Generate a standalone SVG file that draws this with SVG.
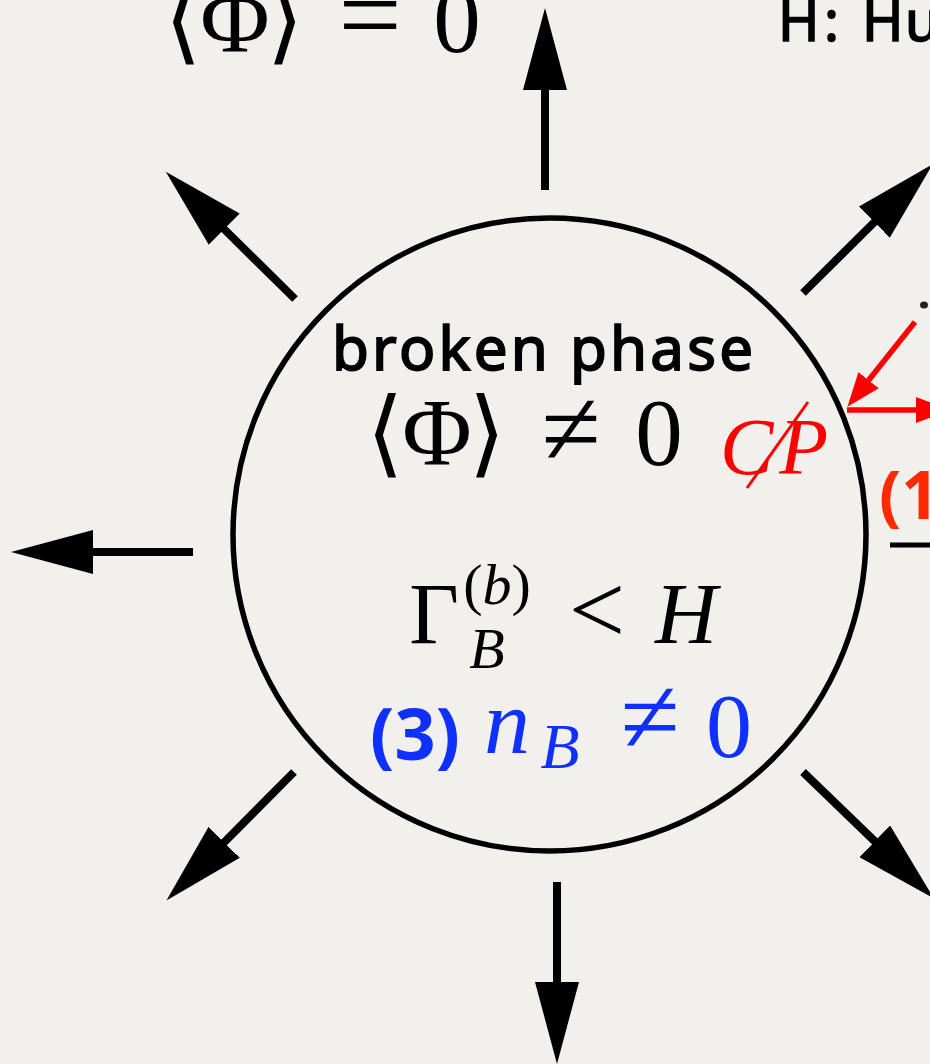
<svg xmlns="http://www.w3.org/2000/svg" width="930" height="1064" viewBox="0 0 930 1064">
<style>
.m{font-family:"Liberation Serif","DejaVu Serif","DejaVu Sans",serif;fill:#000}
.mi{font-family:"Liberation Serif","DejaVu Serif",serif;font-style:italic}
.h{font-family:"Noto Sans","DejaVu Sans",sans-serif;fill:#000}
.shaft{stroke:#000;stroke-width:8;fill:none}
.rshaft{stroke:#ff0000;stroke-width:5.5;fill:none}
.blue{fill:#1030ff}
</style>
<defs>
<marker id="ah" viewBox="0 0 82 44" refX="1" refY="22" markerWidth="82" markerHeight="44" markerUnits="userSpaceOnUse" orient="auto"><path d="M0,0 L82,22 L0,44 Z" fill="#000"/></marker>
<marker id="rah" viewBox="0 0 34 26" refX="1" refY="13" markerWidth="34" markerHeight="26" markerUnits="userSpaceOnUse" orient="auto"><path d="M0,0 L34,13 L0,26 Z" fill="#ff0000"/></marker>
</defs>
<rect x="0" y="0" width="930" height="1064" fill="#f1f0ec"/>

<g id="label-symmetric">
<text class="m" font-size="95" text-anchor="middle"><tspan x="183" y="52">⟨</tspan><tspan x="235" y="52">Φ</tspan><tspan x="285" y="52">⟩</tspan><tspan x="370" y="52" font-size="112">=</tspan><tspan x="457" y="52">0</tspan></text>
</g>

<g id="label-hubble">
<text class="h" font-size="56" stroke="#000" stroke-width="1.6"><tspan x="778" y="41">H</tspan><tspan x="824" y="41">:</tspan><tspan x="862" y="41">H</tspan><tspan x="905" y="41">u</tspan></text>
</g>

<g id="broken-phase">
<circle cx="549.5" cy="534.5" r="316.5" fill="none" stroke="#000" stroke-width="5.5"/>
<text class="h" x="332" y="370" font-size="60" textLength="421" lengthAdjust="spacing" stroke="#000" stroke-width="1.8">broken phase</text>
<text class="m" font-size="95" text-anchor="middle"><tspan x="385" y="465">⟨</tspan><tspan x="437" y="465">Φ</tspan><tspan x="487" y="465">⟩</tspan><tspan x="571" y="465" font-size="108">≠</tspan><tspan x="659" y="465">0</tspan></text>
<text class="m" font-size="86" text-anchor="middle"><tspan x="434" y="643">Γ</tspan><tspan x="597" y="643" font-size="100">&lt;</tspan><tspan class="mi" x="686" y="643">H</tspan></text>
<text class="m" font-size="58" text-anchor="middle" x="497" y="604">(<tspan class="mi">b</tspan>)</text>
<text class="m mi" font-size="58" text-anchor="middle" x="487" y="668">B</text>
<text class="h blue" font-size="72" font-weight="bold" text-anchor="middle" x="415" y="760">(3)</text>
<text class="m blue" font-size="92" text-anchor="middle"><tspan class="mi" x="507" y="753">n</tspan><tspan x="650" y="753" font-size="108">≠</tspan><tspan x="729" y="757">0</tspan></text>
<text class="m mi blue" font-size="64" text-anchor="middle" x="560" y="768">B</text>
<text class="m mi" font-size="80" style="fill:#ff0000" x="720" y="474" textLength="108" lengthAdjust="spacing">CP</text>
<line x1="808" y1="402" x2="747" y2="488" stroke="#ff0000" stroke-width="3"/>
</g>

<g id="connectors">
<line class="shaft" x1="545" y1="190" x2="545" y2="89" marker-end="url(#ah)"/>
<line class="shaft" x1="557" y1="882" x2="557" y2="983" marker-end="url(#ah)"/>
<line class="shaft" x1="193" y1="552" x2="92" y2="552" marker-end="url(#ah)"/>
<line class="shaft" x1="295" y1="299" x2="223.5" y2="228.5" marker-end="url(#ah)"/>
<line class="shaft" x1="803" y1="293" x2="875" y2="221.5" marker-end="url(#ah)"/>
<line class="shaft" x1="294" y1="772" x2="223.5" y2="843" marker-end="url(#ah)"/>
<line class="shaft" x1="803" y1="772" x2="875.5" y2="842" marker-end="url(#ah)"/>
<line class="rshaft" x1="915" y1="322" x2="868" y2="381" marker-end="url(#rah)"/>
<line class="rshaft" x1="847" y1="410" x2="917" y2="410" marker-end="url(#rah)"/>
<line x1="890" y1="545" x2="930" y2="545" stroke="#000" stroke-width="5"/>
</g>

<g id="edge-fragments">
<text class="h" font-size="66" font-weight="bold" style="fill:#ff2a00" x="879" y="519">(1</text>
<ellipse cx="924" cy="305" rx="4" ry="3.5" fill="#222"/>
</g>
</svg>
